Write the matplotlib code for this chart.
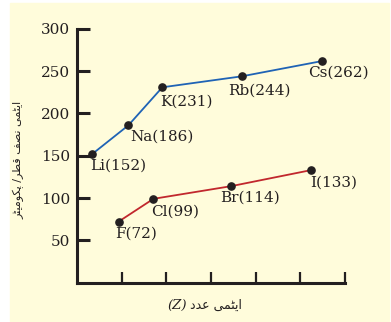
import matplotlib.pyplot as plt
from matplotlib.patches import Rectangle

# atomic radii (pm)
alkali = ['Li', 'Na', 'K', 'Rb', 'Cs']
alkali_x = [0.34, 1.15, 1.91, 3.69, 5.48]
alkali_r = [152, 186, 231, 244, 262]

halogen = ['F', 'Cl', 'Br', 'I']
halogen_x = [0.93, 1.71, 3.45, 5.24]
halogen_r = [72, 99, 114, 133]

y_ticks = [50, 100, 150, 200, 250, 300]
x_ticks = [1, 2, 3, 4, 5, 6]

# label offsets in pixels (dx, dy down)
alkali_off = [(-2, 5), (2, 4), (-2, 7), (-14, 7), (-14, 5)]
halogen_off = [(-3, 5), (-2, 6), (-11, 4), (-1, 6)]

ink = '#231f20'

# Urdu text, pre-shaped with presentation forms (matplotlib does no shaping)
w_atomi = '\uFE8D\uFBFE\uFB69\uFEE4\uFBFD'
w_nisf = '\uFEE7\uFEBC\uFED2'
w_qutr = '\uFED7\uFEC4\uFEAE'
w_pico = '\uFB58\uFB91\uFEEE\uFEE3\uFBFF\uFB69\uFEAE'
w_adad = '\uFECB\uFEAA\uFEA9'
ylab = (w_atomi + ' ' + w_nisf + ' ' + w_qutr + '/ ' + w_pico)[::-1]
xlab = (w_atomi + ' ' + w_adad)[::-1]

fig = plt.figure(figsize=(3.91, 3.22), dpi=100)
fig.patches.append(Rectangle((10 / 391, 1 / 322), 379 / 391, 318 / 322,
                             transform=fig.transFigure, color='#fffcdb', zorder=-1))

ax = fig.add_axes([77 / 391, 39.5 / 322, 268 / 391, 253.5 / 322])
ax.patch.set_visible(False)

ax.plot(alkali_x, alkali_r, color='#1f63b5', lw=1.3, marker='o', ms=5.2,
        mfc=ink, mec=ink, zorder=3)
ax.plot(halogen_x, halogen_r, color='#c1272d', lw=1.3, marker='o', ms=5.2,
        mfc=ink, mec=ink, zorder=3)

for s, x, r, (dx, dy) in zip(alkali, alkali_x, alkali_r, alkali_off):
    ax.annotate(f'{s}({r})', (x, r), xytext=(dx, -dy), textcoords='offset pixels',
                ha='left', va='top', fontsize=11, family='DejaVu Serif', color=ink)
for s, x, r, (dx, dy) in zip(halogen, halogen_x, halogen_r, halogen_off):
    ax.annotate(f'{s}({r})', (x, r), xytext=(dx, -dy), textcoords='offset pixels',
                ha='left', va='top', fontsize=11, family='DejaVu Serif', color=ink)

ax.set_xlim(0, 6)
ax.set_ylim(0, 300)
ax.set_xticks(x_ticks)
ax.set_xticklabels([])
ax.set_yticks(y_ticks)
ax.spines['top'].set_visible(False)
ax.spines['right'].set_visible(False)
for sp in ['left', 'bottom']:
    ax.spines[sp].set_linewidth(2.2)
    ax.spines[sp].set_color(ink)
ax.tick_params(axis='y', direction='in', length=9.5, width=2.2, color=ink,
               labelsize=11, pad=5, labelcolor=ink)
ax.tick_params(axis='x', direction='in', length=8, width=1.6, color=ink)
for lab in ax.get_yticklabels():
    lab.set_family('DejaVu Serif')

fig.text(19 / 391, 1 - 160 / 322, ylab, rotation=90, ha='center', va='center',
         fontsize=8, family='DejaVu Sans', color=ink)
fig.text(187 / 391, 1 - 305 / 322, '(Z)', ha='right', va='center',
         fontsize=9.5, family='DejaVu Serif', style='italic', color=ink)
fig.text(190 / 391, 1 - 305 / 322, xlab, ha='left', va='center',
         fontsize=9, family='DejaVu Sans', color=ink)

fig.savefig('out.png', dpi=100)
